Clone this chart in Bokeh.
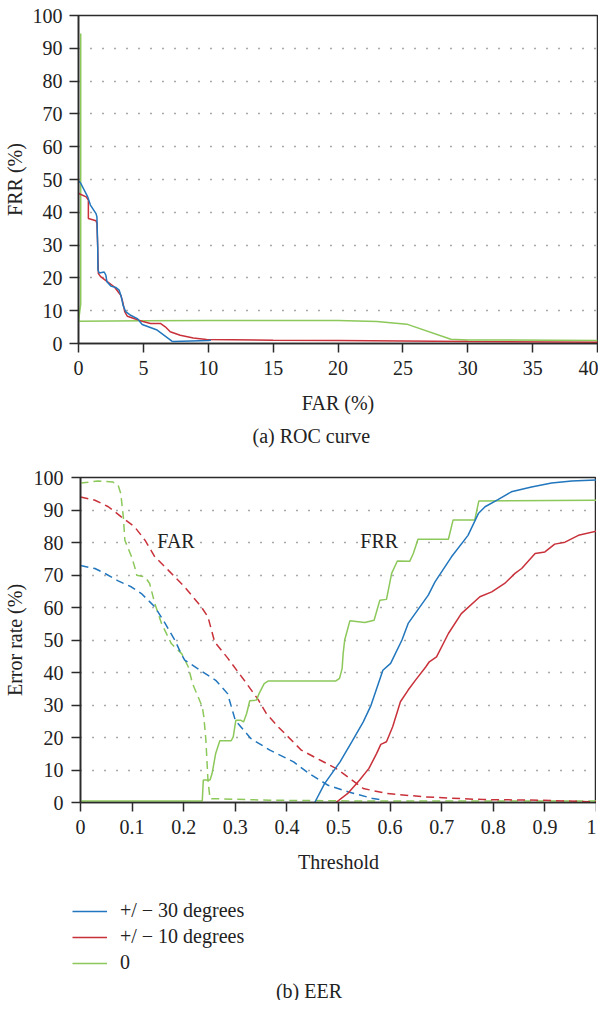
from bokeh.plotting import figure
from bokeh.models import Range1d, FixedTicker, Label, Legend, LegendItem, Title
from bokeh.layouts import column
from bokeh.embed import file_html
from bokeh.resources import INLINE

# ---------------- (a) ROC curve data: FAR (%) vs FRR (%) ----------------
roc30_far = [0.0, 0.15, 0.71, 0.92, 1.35, 1.42, 1.48, 1.5, 1.6, 1.98, 2.11, 2.19, 2.49, 2.87,
             3.13, 3.3, 3.43, 3.64, 4.02, 4.53, 4.91, 6.06, 7.2, 7.33, 10.0, 10.2]
roc30_frr = [49.5, 49.0, 44.7, 42.2, 39.6, 38.6, 29.5, 22.4, 21.5, 21.8, 20.8, 18.8, 17.5, 17.1,
             16.3, 14.2, 11.7, 9.7, 8.6, 7.6, 5.8, 4.1, 0.7, 0.6, 0.9, 1.0]

roc10_far = [0.0, 0.15, 0.59, 0.76, 0.76, 1.35, 1.42, 1.48, 1.53, 1.73, 2.24, 2.75, 3.26, 3.41,
             3.56, 3.77, 4.27, 5.04, 5.55, 6.31, 6.69, 7.07, 7.84, 8.85, 9.87, 15.0, 20.0, 30.0, 40.0]
roc10_frr = [45.8, 45.5, 44.7, 43.7, 38.1, 37.4, 36.6, 29.5, 21.3, 20.3, 18.8, 17.3, 14.7, 12.7,
             9.7, 8.3, 7.6, 6.6, 6.1, 6.1, 5.1, 3.6, 2.5, 1.7, 1.2, 1.0, 0.9, 0.6, 0.4]

roc0_far = [0.17, 0.17, 0.0, 5.0, 10.0, 15.0, 20.0, 23.0, 25.3, 28.7, 30.0, 40.0]
roc0_frr = [94.5, 12.0, 6.8, 6.9, 7.0, 7.0, 7.0, 6.7, 5.9, 1.3, 1.1, 0.9]

roc_xticks = [0, 5, 10, 15, 20, 25, 30, 35, 40]
pct_ticks = [0, 10, 20, 30, 40, 50, 60, 70, 80, 90, 100]
grid_ticks = [10, 20, 30, 40, 50, 60, 70, 80, 90]

# ---------------- (b) EER data: threshold vs error rate (%) ----------------
far30_t = [0.0, 0.028, 0.047, 0.073, 0.099, 0.118, 0.144, 0.164, 0.183, 0.195, 0.202, 0.232,
           0.262, 0.285, 0.300, 0.330, 0.367, 0.413, 0.443, 0.480, 0.518, 0.567, 0.580]
far30_v = [72.9, 72.0, 70.5, 68.2, 66.3, 64.3, 60.2, 55.1, 49.9, 45.8, 43.8, 40.7,
           37.6, 33.5, 25.3, 19.7, 16.1, 12.5, 8.9, 5.3, 3.3, 1.2, 0.9]

far10_t = [0.0, 0.028, 0.054, 0.079, 0.105, 0.125, 0.144, 0.170, 0.202, 0.234, 0.247, 0.260,
           0.285, 0.322, 0.345, 0.360, 0.383, 0.428, 0.465, 0.495, 0.518, 0.548, 0.593, 0.669,
           0.780, 0.895, 1.0]
far10_v = [94.0, 93.0, 91.0, 87.9, 84.8, 80.7, 75.6, 71.5, 66.3, 60.2, 57.1, 49.4,
           44.5, 36.6, 31.5, 27.4, 23.3, 16.1, 13.0, 10.5, 7.9, 4.3, 2.8, 1.7,
           0.9, 0.7, 0.2]

far0_t = [0.0, 0.034, 0.063, 0.073, 0.078, 0.083, 0.086, 0.099, 0.105, 0.109, 0.125, 0.134,
          0.144, 0.157, 0.176, 0.196, 0.209, 0.217, 0.228, 0.236, 0.239, 0.243, 0.247, 0.251,
          0.367, 0.520, 1.0]
far0_v = [98.3, 98.9, 98.6, 97.6, 95.1, 87.9, 80.7, 75.6, 72.5, 69.9, 69.4, 67.4,
          61.2, 55.1, 48.9, 45.8, 41.7, 36.6, 32.5, 29.4, 26.4, 19.2, 6.9, 1.2,
          0.7, 0.5, 0.5]

frr30_t = [0.454, 0.473, 0.503, 0.526, 0.548, 0.563, 0.586, 0.601, 0.623, 0.635, 0.674, 0.687,
           0.719, 0.751, 0.771, 0.784, 0.809, 0.835, 0.874, 0.913, 0.952, 1.0]
frr30_v = [0.0, 5.8, 12.5, 18.7, 24.8, 29.9, 40.7, 42.8, 50.0, 55.1, 63.8, 67.9,
           75.6, 82.2, 88.9, 91.0, 93.2, 95.6, 97.1, 98.3, 98.9, 99.2]

frr10_t = [0.495, 0.518, 0.541, 0.559, 0.574, 0.582, 0.593, 0.605, 0.620, 0.635, 0.650, 0.669,
           0.676, 0.690, 0.713, 0.738, 0.774, 0.797, 0.822, 0.842, 0.855, 0.881, 0.900, 0.919,
           0.939, 0.965, 1.0]
frr10_v = [0.0, 2.8, 6.9, 10.5, 15.1, 17.9, 18.7, 23.3, 31.0, 34.6, 37.8, 41.7,
           43.3, 44.8, 52.0, 58.1, 63.3, 64.8, 67.4, 70.5, 72.0, 76.6, 77.1, 79.5,
           80.1, 82.2, 83.5]

frr0_t = [0.0, 0.236, 0.238, 0.251, 0.255, 0.262, 0.270, 0.292, 0.296, 0.301, 0.311, 0.316,
          0.322, 0.328, 0.341, 0.346, 0.356, 0.364, 0.495, 0.502, 0.507, 0.509, 0.512, 0.522,
          0.551, 0.569, 0.580, 0.593, 0.603, 0.614, 0.638, 0.645, 0.654, 0.713, 0.722, 0.764,
          0.772, 1.0]
frr0_v = [0.5, 0.5, 6.9, 6.9, 8.9, 15.1, 19.0, 19.0, 20.2, 25.3, 25.3, 24.8,
          27.4, 31.3, 31.5, 33.5, 36.6, 37.4, 37.4, 38.2, 41.2, 45.8, 50.0, 55.9,
          55.4, 56.1, 62.2, 62.5, 70.5, 74.3, 74.2, 76.6, 81.0, 81.0, 86.9, 86.9,
          92.8, 93.0]

thr_ticks = [0, 0.1, 0.2, 0.3, 0.4, 0.5, 0.6, 0.7, 0.8, 0.9, 1]
thr_labels = {0: "0", 0.1: "0.1", 0.2: "0.2", 0.3: "0.3", 0.4: "0.4", 0.5: "0.5",
              0.6: "0.6", 0.7: "0.7", 0.8: "0.8", 0.9: "0.9", 1: "1"}
series_names = ["+/ \u2212 30 degrees", "+/ \u2212 10 degrees", "0"]

BLUE = "#2176bd"
RED = "#c8313a"
GREEN = "#8cc85a"
FONT = "Liberation Serif, DejaVu Serif, serif"
FS = "20px"
AX = "#2b2b2b"


def style(p, xticks, yticks):
    p.outline_line_color = AX
    p.outline_line_width = 1.5
    p.background_fill_color = "white"
    p.border_fill_color = "white"
    p.xgrid.visible = False
    p.ygrid.ticker = FixedTicker(ticks=grid_ticks)
    p.ygrid.grid_line_color = "#555555"
    p.ygrid.grid_line_width = 1.4
    p.ygrid.grid_line_dash = "1 11"
    p.xaxis.ticker = FixedTicker(ticks=xticks)
    p.yaxis.ticker = FixedTicker(ticks=yticks)
    for ax in (p.xaxis[0], p.yaxis[0]):
        ax.axis_line_color = AX
        ax.axis_line_width = 1.6
        ax.major_tick_line_color = AX
        ax.major_tick_line_width = 1.5
        ax.major_tick_in = 0
        ax.major_tick_out = 9
        ax.minor_tick_line_color = None
        ax.major_label_text_font = FONT
        ax.major_label_text_font_size = FS
        ax.major_label_text_color = "#222222"
        ax.axis_label_text_font = FONT
        ax.axis_label_text_font_size = FS
        ax.axis_label_text_font_style = "normal"
        ax.axis_label_text_color = "#222222"


# ---------------- figure (a) ----------------
p1 = figure(frame_width=519, frame_height=328, x_range=Range1d(0, 40), y_range=Range1d(0, 100),
            output_backend="svg", toolbar_location=None, frame_align=False,
            min_border_left=73, min_border_right=1, min_border_top=15, min_border_bottom=120)
style(p1, roc_xticks, pct_ticks)
p1.xaxis.axis_label = "FAR (%)"
p1.yaxis.axis_label = "FRR (%)"
p1.xaxis.major_label_standoff = 8
p1.xaxis.axis_label_standoff = 14
p1.yaxis.major_label_standoff = 7
p1.yaxis.axis_label_standoff = 4

p1.line(roc0_far, roc0_frr, line_color=GREEN, line_width=1.5)
p1.line(roc10_far, roc10_frr, line_color=RED, line_width=1.5)
p1.line(roc30_far, roc30_frr, line_color=BLUE, line_width=1.5)

p1.add_layout(Title(text="(a)  ROC curve", align="left", offset=174, standoff=12,
                    text_font=FONT, text_font_size="20px", text_font_style="normal",
                    text_color="#222222"), "below")

# ---------------- figure (b) ----------------
p2 = figure(frame_width=516, frame_height=325, x_range=Range1d(0, 1), y_range=Range1d(0, 100),
            output_backend="svg", toolbar_location=None, frame_align=False,
            min_border_left=78, min_border_right=0, min_border_top=14, min_border_bottom=95)
style(p2, thr_ticks, pct_ticks)
p2.xaxis.major_label_overrides = thr_labels
p2.xaxis.axis_label = "Threshold"
p2.yaxis.axis_label = "Error rate (%)"
p2.xaxis.major_label_standoff = 8
p2.xaxis.axis_label_standoff = 14
p2.yaxis.major_label_standoff = 8
p2.yaxis.axis_label_standoff = 5

dash = "8 5"
p2.line(far0_t, far0_v, line_color=GREEN, line_width=1.5, line_dash=dash)
p2.line(far10_t, far10_v, line_color=RED, line_width=1.5, line_dash=dash)
p2.line(far30_t, far30_v, line_color=BLUE, line_width=1.5, line_dash=dash)
p2.line(frr0_t, frr0_v, line_color=GREEN, line_width=1.5)
p2.line(frr10_t, frr10_v, line_color=RED, line_width=1.5)
p2.line(frr30_t, frr30_v, line_color=BLUE, line_width=1.5)

p2.add_layout(Label(x=0.185, y=80.4, text="FAR", text_font=FONT, text_font_size=FS,
                    text_color="#222222", text_align="center", text_baseline="middle"))
p2.add_layout(Label(x=0.579, y=80.4, text="FRR", text_font=FONT, text_font_size=FS,
                    text_color="#222222", text_align="center", text_baseline="middle"))

# ---------------- legend + caption (b) ----------------
# The legend keys reuse the FRR series, drawn outside this strip's visible range.
p3 = figure(width=594, height=103, x_range=Range1d(0, 1), y_range=Range1d(500, 600),
            output_backend="svg", toolbar_location=None, frame_align=False,
            x_axis_location=None, y_axis_location=None,
            min_border_left=0, min_border_right=0, min_border_top=0, min_border_bottom=0)
p3.grid.visible = False
p3.outline_line_color = None
p3.background_fill_color = "white"
p3.border_fill_color = "white"
k30 = p3.line(frr30_t, frr30_v, line_color=BLUE, line_width=1.5)
k10 = p3.line(frr10_t, frr10_v, line_color=RED, line_width=1.5)
k0 = p3.line(frr0_t, frr0_v, line_color=GREEN, line_width=1.5)
legend = Legend(items=[LegendItem(label=series_names[0], renderers=[k30]),
                       LegendItem(label=series_names[1], renderers=[k10]),
                       LegendItem(label=series_names[2], renderers=[k0])],
                location=(72, 26), orientation="vertical",
                glyph_width=35, glyph_height=20, label_height=20, spacing=3,
                padding=0, margin=0, label_standoff=13,
                border_line_color=None, background_fill_alpha=0,
                label_text_font=FONT, label_text_font_size=FS, label_text_color="#222222")
p3.add_layout(legend, "center")
p3.add_layout(Label(x=311, y=10, x_units="screen", y_units="screen", text="(b)  EER",
                    text_font=FONT, text_font_size="20px", text_color="#222222",
                    text_align="center", text_baseline="middle"))

layout = column(p1, p2, p3, spacing=0)
open("out.html", "w").write(file_html(layout, INLINE))
